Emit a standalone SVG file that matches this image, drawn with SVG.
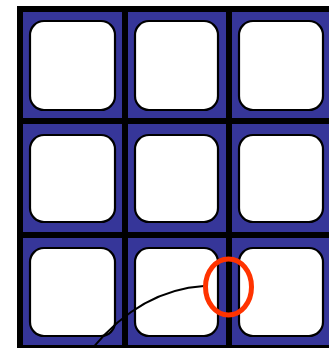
<svg xmlns="http://www.w3.org/2000/svg" width="329" height="348" viewBox="0 0 329 348">
<style>
.cell{fill:#363699}
.sq{fill:#fff;stroke:#000;stroke-width:2.2}
.conn{fill:none;stroke:#000;stroke-width:2}
.mark{fill:none;stroke:#ff3300;stroke-width:5}
</style>
<rect x="0" y="0" width="329" height="348" fill="#fff"/>
<rect x="17" y="6" width="312" height="342" fill="#000"/>
<g id="c11"><rect class="cell" x="23" y="12" width="99" height="106"/><rect class="sq" x="30" y="21" width="85" height="89" rx="14"/></g>
<g id="c12"><rect class="cell" x="128" y="12" width="98" height="106"/><rect class="sq" x="135" y="21" width="83" height="89" rx="14"/></g>
<g id="c13"><rect class="cell" x="232" y="12" width="97" height="106"/><rect class="sq" x="239" y="21" width="84" height="89" rx="14"/></g>
<g id="c21"><rect class="cell" x="23" y="124" width="99" height="108"/><rect class="sq" x="30" y="135" width="85" height="87" rx="14"/></g>
<g id="c22"><rect class="cell" x="128" y="124" width="98" height="108"/><rect class="sq" x="135" y="135" width="83" height="87" rx="14"/></g>
<g id="c23"><rect class="cell" x="232" y="124" width="97" height="108"/><rect class="sq" x="239" y="135" width="84" height="87" rx="14"/></g>
<g id="c31"><rect class="cell" x="23" y="238" width="99" height="107"/><rect class="sq" x="30" y="248" width="85" height="88" rx="14"/></g>
<g id="c32"><rect class="cell" x="128" y="238" width="98" height="107"/><rect class="sq" x="135" y="248" width="83" height="88" rx="14"/></g>
<g id="c33"><rect class="cell" x="232" y="238" width="97" height="107"/><rect class="sq" x="239" y="248" width="84" height="88" rx="14"/></g>
<g id="connectors"><path class="conn" d="M91 350 Q140 290 204 286"/></g>
<g id="marker"><ellipse class="mark" cx="228.5" cy="287" rx="23" ry="28"/></g>
</svg>
